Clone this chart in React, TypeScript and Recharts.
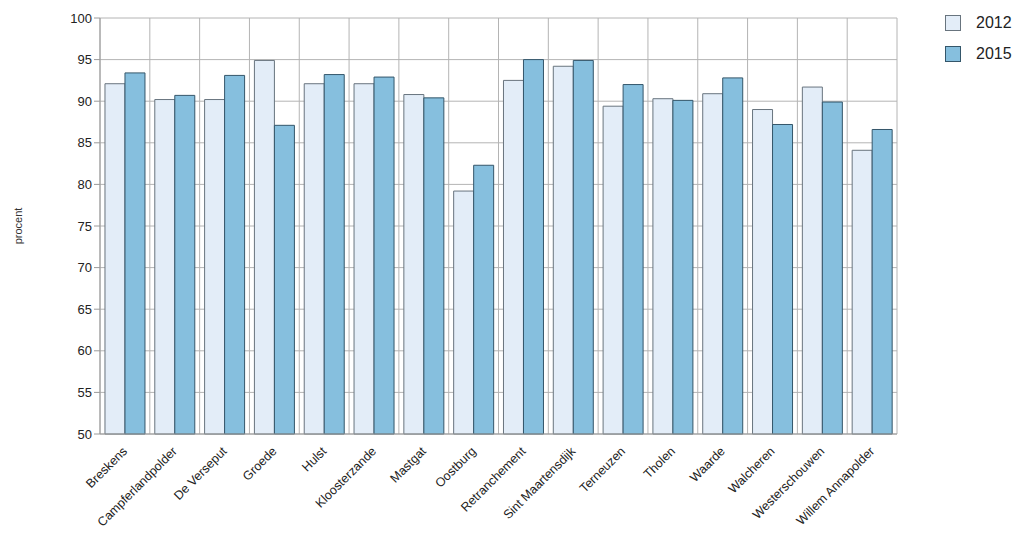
import { BarChart, Bar, XAxis, YAxis, CartesianGrid } from 'recharts'

const regions = [
  'Breskens', 'Campferlandpolder', 'De Verseput', 'Groede', 'Hulst', 'Kloosterzande',
  'Mastgat', 'Oostburg', 'Retranchement', 'Sint Maartensdijk', 'Terneuzen', 'Tholen',
  'Waarde', 'Walcheren', 'Westerschouwen', 'Willem Annapolder',
]
const values2012 = [92.1, 90.2, 90.2, 94.9, 92.1, 92.1, 90.8, 79.2, 92.5, 94.2, 89.4, 90.3, 90.9, 89.0, 91.7, 84.1]
const values2015 = [93.4, 90.7, 93.1, 87.1, 93.2, 92.9, 90.4, 82.3, 95.0, 94.9, 92.0, 90.1, 92.8, 87.2, 89.9, 86.6]
const yTicks = [50, 55, 60, 65, 70, 75, 80, 85, 90, 95, 100]

const series = [
  { key: '2012', values: values2012, fill: '#e3edf8', stroke: '#68747e' },
  { key: '2015', values: values2015, fill: '#86bfde', stroke: '#34566a' },
]

const data = regions.map((name, i) => ({ name, y2012: values2012[i], y2015: values2015[i] }))

const font = 'Arial, "Liberation Sans", sans-serif'

const RotatedTick = (props: any) => {
  const { x, y, payload } = props
  return (
    <text
      x={x + 3}
      y={y + 10}
      transform={`rotate(-45, ${x + 3}, ${y + 10})`}
      textAnchor="end"
      fontSize={12.5}
      fontFamily={font}
      fill="#222"
    >
      {payload.value}
    </text>
  )
}

export default function App() {
  return (
    <div style={{ position: 'relative', width: 1008, height: 526 }}>
      <BarChart
        width={1008}
        height={526}
        data={data}
        margin={{ top: 10, right: 119, left: 0, bottom: 0 }}
        barCategoryGap="10%"
        barGap={0}
      >
        <CartesianGrid
          stroke="#b4b4b4"
          verticalCoordinatesGenerator={({ offset }: any) =>
            Array.from({ length: regions.length + 1 }, (_, i) => offset.left + (i * offset.width) / regions.length)
          }
        />
        <XAxis
          dataKey="name"
          interval={0}
          height={100}
          tick={<RotatedTick />}
          tickLine={false}
          axisLine={{ stroke: '#9a9a9a' }}
        />
        <YAxis
          width={92}
          domain={[50, 100]}
          ticks={yTicks}
          interval={0}
          tickSize={6}
          tickLine={{ stroke: '#9a9a9a' }}
          axisLine={{ stroke: '#9a9a9a' }}
          tick={{ fontSize: 13, fontFamily: font, fill: '#222' }}
          label={{
            value: 'procent',
            angle: -90,
            position: 'insideLeft',
            offset: 10,
            style: { fontSize: 11, fontFamily: font, fill: '#333', textAnchor: 'middle' },
          }}
        />
        {series.map((s) => (
          <Bar
            key={s.key}
            dataKey={`y${s.key}`}
            fill={s.fill}
            stroke={s.stroke}
            strokeWidth={1}
            isAnimationActive={false}
          />
        ))}
      </BarChart>
      <div style={{ position: 'absolute', left: 937, top: 0, fontFamily: font }}>
        {series.map((s, i) => (
          <div key={s.key} style={{ display: 'flex', alignItems: 'center', height: 30, marginTop: i === 0 ? 0 : 1 }}>
            <div style={{ width: 16, height: 16, background: s.fill, border: `1px solid ${s.stroke}`, boxSizing: 'border-box' }} />
            <span style={{ marginLeft: 15, fontSize: 16, color: '#222' }}>{s.key}</span>
          </div>
        ))}
      </div>
    </div>
  )
}
